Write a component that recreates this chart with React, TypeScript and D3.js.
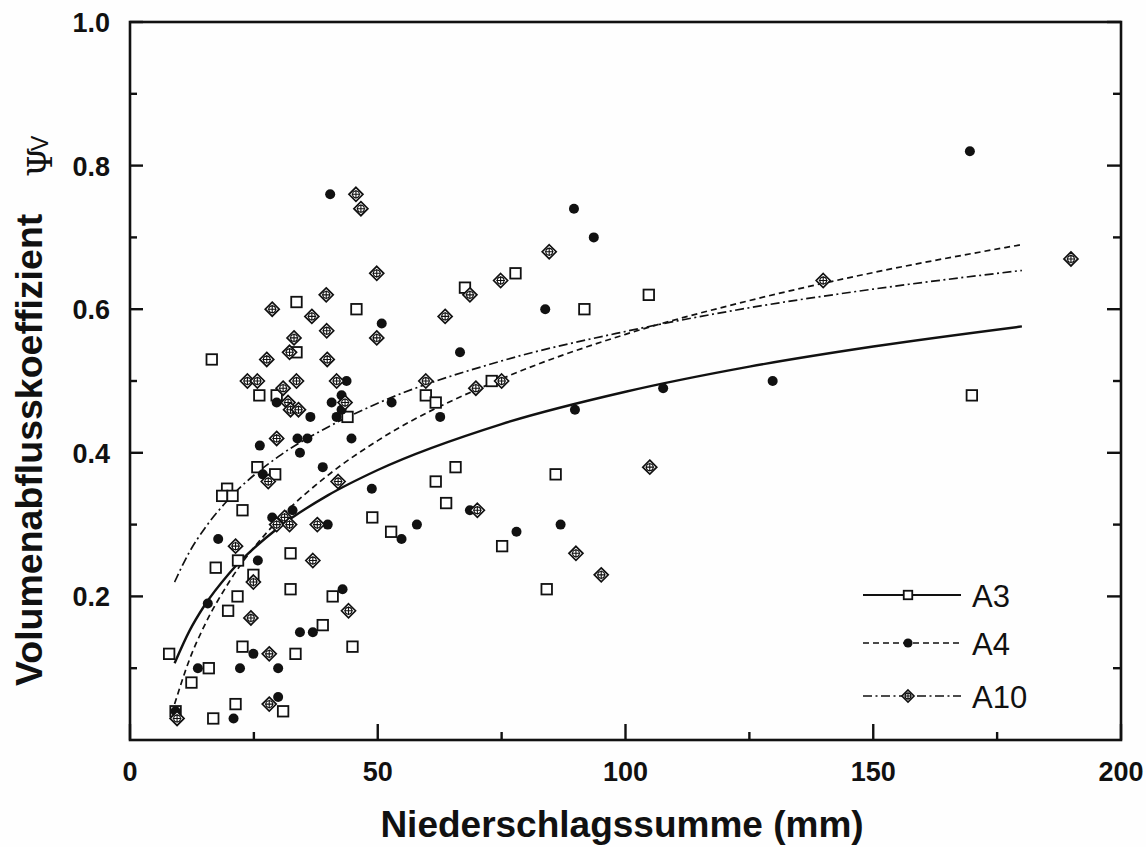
import React from "react";
import * as d3 from "d3";

// ---- data ----
const seriesA3: [number, number][] = [
  [7.9, 0.12], [9.2, 0.04], [12.4, 0.08], [15.9, 0.10], [16.8, 0.03], [21.3, 0.05], [22.7, 0.13],
  [19.8, 0.18], [21.7, 0.20], [17.3, 0.24], [21.8, 0.25], [24.9, 0.23], [32.4, 0.26], [32.4, 0.21],
  [30.9, 0.04], [33.4, 0.12], [40.9, 0.20], [38.9, 0.16], [44.9, 0.13], [48.9, 0.31], [52.7, 0.29],
  [19.6, 0.35], [18.6, 0.34], [20.7, 0.34], [22.7, 0.32], [16.5, 0.53], [33.6, 0.61], [45.7, 0.60],
  [33.6, 0.54], [26.1, 0.48], [29.6, 0.48], [43.9, 0.45], [25.7, 0.38], [29.3, 0.37], [67.6, 0.63],
  [77.8, 0.65], [91.7, 0.60], [73.0, 0.50], [59.7, 0.48], [61.7, 0.47], [104.7, 0.62], [169.9, 0.48],
  [65.7, 0.38], [61.7, 0.36], [63.8, 0.33], [85.9, 0.37], [75.1, 0.27], [84.1, 0.21],
];

const seriesA4: [number, number][] = [
  [9.2, 0.04], [13.7, 0.10], [15.7, 0.19], [17.8, 0.28], [20.9, 0.03], [22.2, 0.10], [24.9, 0.12],
  [25.8, 0.25], [28.7, 0.31], [32.8, 0.32], [29.9, 0.10], [29.9, 0.06], [34.3, 0.15], [36.9, 0.15],
  [39.9, 0.30], [42.9, 0.21], [48.8, 0.35], [41.8, 0.36], [26.2, 0.41], [34.3, 0.40], [33.8, 0.42],
  [35.8, 0.42], [36.4, 0.45], [38.9, 0.38], [29.6, 0.47], [40.7, 0.47], [42.7, 0.48], [43.7, 0.50],
  [41.7, 0.45], [42.7, 0.46], [44.7, 0.42], [50.8, 0.58], [26.8, 0.37], [40.4, 0.76], [66.6, 0.54],
  [83.8, 0.60], [89.6, 0.74], [93.6, 0.70], [52.8, 0.47], [62.6, 0.45], [89.8, 0.46], [107.6, 0.49],
  [129.7, 0.50], [169.5, 0.82], [86.9, 0.30], [78.0, 0.29], [68.6, 0.32], [57.9, 0.30], [54.8, 0.28],
];

const seriesA10: [number, number][] = [
  [9.5, 0.03], [21.3, 0.27], [24.9, 0.22], [24.4, 0.17], [28.1, 0.12], [28.1, 0.05], [29.6, 0.30],
  [31.2, 0.31], [32.2, 0.30], [37.8, 0.30], [36.9, 0.25], [44.1, 0.18], [27.9, 0.36], [42.0, 0.36],
  [28.7, 0.60], [39.6, 0.62], [36.7, 0.59], [39.7, 0.57], [33.1, 0.56], [32.2, 0.54], [27.6, 0.53],
  [39.8, 0.53], [23.7, 0.50], [25.7, 0.50], [33.6, 0.50], [41.7, 0.50], [30.9, 0.49], [31.9, 0.47],
  [32.4, 0.46], [34.0, 0.46], [43.4, 0.47], [29.6, 0.42], [49.8, 0.65], [49.8, 0.56], [45.6, 0.76],
  [46.6, 0.74], [63.6, 0.59], [68.6, 0.62], [74.8, 0.64], [84.6, 0.68], [59.7, 0.50], [69.8, 0.49],
  [75.0, 0.50], [70.1, 0.32], [104.9, 0.38], [90.0, 0.26], [95.1, 0.23], [139.9, 0.64], [189.9, 0.67],
];

// fitted curves
const fitX = [9, 12, 15, 20, 30, 40, 50, 75, 100, 125, 150, 180];
const fitA3 = [0.107, 0.152, 0.187, 0.232, 0.296, 0.341, 0.376, 0.440, 0.485, 0.520, 0.548, 0.576];
const fitA4 = [0.050, 0.112, 0.159, 0.220, 0.307, 0.369, 0.417, 0.503, 0.565, 0.612, 0.651, 0.690];
const fitA10 = [0.220, 0.262, 0.294, 0.336, 0.395, 0.436, 0.469, 0.528, 0.569, 0.602, 0.628, 0.654];

const xMajorTicks = [0, 50, 100, 150, 200];
const xMinorTicks = [25, 75, 125, 175];
const yMajorTicks = [0.2, 0.4, 0.6, 0.8, 1.0];
const yMinorTicks = [0.1, 0.3, 0.5, 0.7, 0.9];
const legendNames = ["A3", "A4", "A10"];

const FONT = "'Liberation Sans', Arial, Helvetica, sans-serif";

const X0 = 130, X1 = 1121, Y0 = 740, Y1 = 22;

function Square({ x, y, s }: { x: number; y: number; s: number }) {
  return <rect x={x - s / 2} y={y - s / 2} width={s} height={s} fill="white" stroke="#111" strokeWidth={1.8} />;
}
function Dot({ x, y, r }: { x: number; y: number; r: number }) {
  return <circle cx={x} cy={y} r={r} fill="#111" />;
}
function Diamond({ x, y, h }: { x: number; y: number; h: number }) {
  const c = h * 0.48;
  const k = h * 0.62;
  return (
    <g>
      <path d={`M${x},${y - h}L${x + h},${y}L${x},${y + h}L${x - h},${y}Z`} fill="white" stroke="#111" strokeWidth={1.7} />
      <circle cx={x} cy={y} r={c} fill="none" stroke="#111" strokeWidth={1.1} />
      <path d={`M${x - k},${y}H${x + k}M${x},${y - k}V${y + k}`} stroke="#111" strokeWidth={1.1} />
    </g>
  );
}

export default function App() {
  const x = d3.scaleLinear().domain([0, 200]).range([X0, X1]);
  const y = d3.scaleLinear().domain([0, 1]).range([Y0, Y1]);

  const line = d3
    .line<number>()
    .x((_, i) => x(fitX[i]))
    .y((d) => y(d))
    .curve(d3.curveMonotoneX);

  const legendY = [595, 643, 696];
  const legendStyles = [
    { dash: undefined as string | undefined, w: 2.2 },
    { dash: "6 4", w: 1.6 },
    { dash: "9 3.5 2 3.5", w: 1.6 },
  ];

  return (
    <svg
      width={1146}
      height={847}
      style={{ position: "absolute", left: 0, top: 0, background: "#fefefe" }}
      fontFamily={FONT}
    >
      <rect x={0} y={0} width={1146} height={847} fill="#fefefe" />

      {/* fit curves */}
      <path d={line(fitA3) || ""} fill="none" stroke="#111" strokeWidth={2.4} />
      <path d={line(fitA4) || ""} fill="none" stroke="#111" strokeWidth={1.7} strokeDasharray="6 4" />
      <path d={line(fitA10) || ""} fill="none" stroke="#111" strokeWidth={1.7} strokeDasharray="9 3.5 2 3.5" />

      {/* points */}
      {seriesA3.map((d, i) => (
        <Square key={"a3" + i} x={x(d[0])} y={y(d[1])} s={10.5} />
      ))}
      {seriesA4.map((d, i) => (
        <Dot key={"a4" + i} x={x(d[0])} y={y(d[1])} r={5} />
      ))}
      {seriesA10.map((d, i) => (
        <Diamond key={"a10" + i} x={x(d[0])} y={y(d[1])} h={7} />
      ))}

      {/* frame */}
      <rect x={X0} y={Y1} width={X1 - X0} height={Y0 - Y1} fill="none" stroke="#111" strokeWidth={2.6} />

      {/* x ticks */}
      {xMajorTicks.map((t) => (
        <g key={"xt" + t}>
          <line x1={x(t)} x2={x(t)} y1={Y0} y2={Y0 - 16} stroke="#111" strokeWidth={2.4} />
          <text x={x(t)} y={781} textAnchor="middle" fontSize={27} fontWeight="bold" fill="#111">
            {t}
          </text>
        </g>
      ))}
      {xMinorTicks.map((t) => (
        <line key={"xm" + t} x1={x(t)} x2={x(t)} y1={Y0} y2={Y0 - 8} stroke="#111" strokeWidth={2.4} />
      ))}

      {/* y ticks */}
      {yMajorTicks.map((t) => (
        <g key={"yt" + t}>
          <line x1={X0} x2={X0 + 13} y1={y(t)} y2={y(t)} stroke="#111" strokeWidth={2.4} />
          <line x1={X1} x2={X1 - 14} y1={y(t)} y2={y(t)} stroke="#111" strokeWidth={2.4} />
          <text x={110} y={y(t) + 10} textAnchor="end" fontSize={27} fontWeight="bold" fill="#111">
            {d3.format(".1f")(t)}
          </text>
        </g>
      ))}
      {yMinorTicks.map((t) => (
        <g key={"ym" + t}>
          <line x1={X0} x2={X0 + 7} y1={y(t)} y2={y(t)} stroke="#111" strokeWidth={2.4} />
          <line x1={X1} x2={X1 - 8} y1={y(t)} y2={y(t)} stroke="#111" strokeWidth={2.4} />
        </g>
      ))}

      {/* axis titles */}
      <text x={622} y={837} textAnchor="middle" fontSize={37} fontWeight="bold" fill="#111">
        Niederschlagssumme (mm)
      </text>
      <g transform="translate(42,686) rotate(-90)">
        <text x={0} y={0} fontSize={37.5} fontWeight="bold" fill="#111">
          Volumenabflusskoeffizient
        </text>
        <text x={509} y={10} fontSize={34} fontFamily="'DejaVu Serif', 'Liberation Serif', serif" fill="#111">
          Ψ
        </text>
        <text x={535} y={6} fontSize={23} fill="#111">
          V
        </text>
      </g>

      {/* legend */}
      {legendNames.map((n, i) => {
        const ly = legendY[i];
        const st = legendStyles[i];
        return (
          <g key={"lg" + n}>
            <line x1={863} x2={961} y1={ly} y2={ly} stroke="#111" strokeWidth={st.w} strokeDasharray={st.dash} />
            {i === 0 && <Square x={908} y={ly} s={8.5} />}
            {i === 1 && <Dot x={908} y={ly} r={4.6} />}
            {i === 2 && <Diamond x={908} y={ly} h={6} />}
            <text x={972} y={ly + 11.5} fontSize={31} fill="#111">
              {n}
            </text>
          </g>
        );
      })}
    </svg>
  );
}
